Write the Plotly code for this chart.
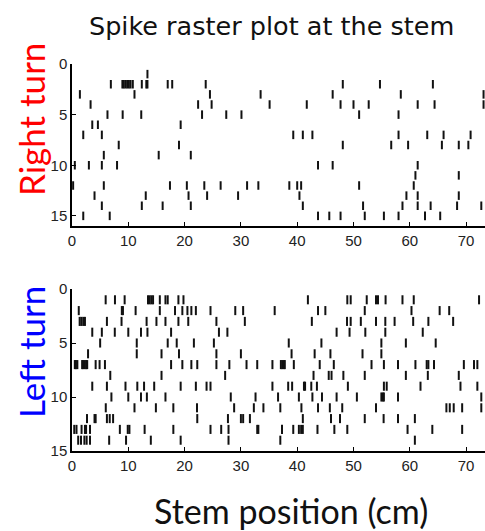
import plotly.graph_objects as go

# ---- data: spike positions (cm) per trial ----
right_turn_trials = [
    [13.4],
    [6.9, 8.95, 9.2, 9.5, 9.8, 10.1, 10.4, 10.8, 12.4, 13.2, 13.4, 17.0, 17.8, 23.75, 48.1, 54.7, 64.1],
    [1.4, 11.1, 24.5, 33.5, 46.3, 58.4, 73.1],
    [3.3, 22.4, 24.8, 35.1, 41.7, 47.7, 50.0, 52.7, 61.4, 64.4, 73.1],
    [6.3, 9.0, 12.3, 23.1, 27.4, 30.1, 51.0, 58.0],
    [3.6, 4.6, 19.3],
    [2.0, 5.3, 39.3, 41.0, 42.7, 58.0, 63.1, 66.0, 70.8],
    [8.3, 19.0, 48.1, 56.7, 59.7, 65.7, 68.7, 70.4],
    [5.65, 15.4, 21.1],
    [0.5, 3.0, 5.3, 8.0, 43.7, 46.3, 61.4],
    [61.0, 68.7],
    [0.2, 5.65, 17.4, 20.4, 23.5, 26.4, 31.1, 33.1, 38.6, 40.0, 40.7, 51.0, 60.7],
    [4.0, 13.1, 20.7, 24.0, 29.5, 40.4, 59.4, 61.4, 68.7],
    [5.3, 12.4, 16.1, 21.1, 41.0, 51.7, 58.7, 61.4, 63.7, 68.4, 72.7],
    [2.0, 6.7, 43.7, 45.7, 47.7, 52.0, 55.4, 58.0, 62.7, 65.4],
]

left_turn_trials = [
    [5.98, 7.63, 9.35, 13.5, 13.8, 14.1, 14.4, 15.6, 16.6, 17.0, 18.9, 19.8, 41.9,
     48.9, 49.5, 52.35, 54.0, 54.35, 55.7, 58.7, 60.7, 72.3],
    [1.2, 8.85, 9.05, 11.3, 15.6, 18.3, 19.6, 20.5, 21.2, 22.0, 24.6, 29.0, 30.4, 36.0,
     43.7, 45.0, 52.0, 60.3, 65.3, 67.0],
    [1.36, 1.66, 2.0, 2.3, 6.2, 8.8, 13.25, 15.0, 16.6, 18.9, 20.65, 25.65, 30.7, 42.6,
     48.85, 49.5, 51.3, 54.0, 55.65, 57.3, 60.6, 63.3, 67.7],
    [3.6, 5.3, 7.6, 10.0, 12.25, 13.4, 17.6, 26.1, 27.6, 47.0, 49.3, 52.1, 55.65, 62.3],
    [5.0, 11.5, 17.0, 18.6, 21.65, 25.2, 38.5, 44.3, 54.95, 59.3, 64.6],
    [2.85, 11.5, 15.9, 19.0, 25.65, 30.0, 39.0, 43.1, 45.9, 51.6, 54.95],
    [0.5, 0.7, 0.95, 1.8, 2.0, 2.25, 2.5, 2.7, 4.2, 4.9, 5.85, 17.6, 19.6, 21.2, 22.25,
     25.65, 27.95, 31.0, 32.9, 35.6, 37.1, 37.35, 37.6, 37.8, 39.4, 44.0, 46.5, 53.2,
     55.4, 57.9, 61.0, 63.0, 63.3, 64.3, 69.6, 71.4, 72.0],
    [6.8, 15.9, 27.2, 42.9, 45.6, 46.1, 48.2, 52.0, 59.3, 63.2, 68.7],
    [3.6, 6.2, 9.5, 11.6, 12.8, 14.6, 19.3, 22.0, 23.9, 24.6, 35.6, 38.4, 39.1, 41.2,
     41.4, 42.5, 43.5, 49.0, 55.4, 55.9, 61.9, 69.0, 72.0],
    [7.0, 10.0, 12.25, 13.3, 16.6, 28.2, 32.6, 36.6, 40.3, 42.7, 44.4, 47.0, 50.6,
     54.95, 55.2, 55.4, 57.9, 72.7],
    [6.0, 11.1, 14.9, 18.0, 22.2, 28.8, 32.3, 34.0, 37.0, 40.75, 43.7, 45.8, 48.0,
     54.0, 66.5, 67.1, 67.8, 69.3, 72.7],
    [2.66, 4.0, 4.2, 6.2, 6.7, 7.3, 22.25, 27.7, 30.0, 30.4, 31.6, 41.0, 46.0, 47.6,
     52.0, 55.35, 57.9, 60.9],
    [0.4, 0.8, 1.7, 2.3, 2.5, 3.2, 8.5, 9.9, 10.2, 12.9, 18.0, 24.6, 26.5, 27.8, 32.9,
     33.1, 37.3, 39.3, 40.3, 40.7, 41.0, 43.6, 46.6, 48.9, 59.6, 64.0, 69.3],
    [1.1, 1.6, 2.2, 2.6, 3.2, 6.6, 9.6, 14.0, 19.3, 27.8, 37.0, 60.9],
]

x_ticks = [0, 10, 20, 30, 40, 50, 60, 70]
y_ticks = [0, 5, 10, 15]


def raster(trials, half):
    xs, ys = [], []
    for i, row in enumerate(trials, start=1):
        for v in row:
            xs += [v, v, None]
            ys += [i - half, i + half, None]
    return xs, ys


W, H = 485, 531


def fx(px):
    return px / W


def fy(py):
    return 1 - py / H


fig = go.Figure()

rx, ry = raster(right_turn_trials, 0.42)
fig.add_trace(go.Scatter(x=rx, y=ry, mode="lines", line=dict(color="#111", width=2),
                         xaxis="x", yaxis="y", showlegend=False, hoverinfo="skip"))
lx, ly = raster(left_turn_trials, 0.42)
fig.add_trace(go.Scatter(x=lx, y=ly, mode="lines", line=dict(color="#111", width=2),
                         xaxis="x2", yaxis="y2", showlegend=False, hoverinfo="skip"))

xr = [0, (485 - 72) / 5.63]
tickfont = dict(family="Liberation Sans, Arial", size=15, color="#222")
common_x = dict(range=xr, tickvals=x_ticks, showline=True, linecolor="black", linewidth=1.5,
                ticks="inside", ticklen=4, tickcolor="black", showgrid=False, zeroline=False,
                tickfont=tickfont, mirror=False, automargin=False)
common_y = dict(tickvals=y_ticks, showline=True, linecolor="black", linewidth=1.5,
                ticks="inside", ticklen=4, tickcolor="black", showgrid=False, zeroline=False,
                tickfont=tickfont, mirror=False, automargin=False)


def ann(text, px, py, size, color, family, angle=0):
    return dict(text=text, x=fx(px), y=fy(py), xref="paper", yref="paper",
                xanchor="center", yanchor="middle", textangle=angle, showarrow=False,
                font=dict(family=family, size=size, color=color))


fig.update_layout(
    width=W, height=H, margin=dict(l=0, r=0, t=0, b=0, autoexpand=False),
    paper_bgcolor="white", plot_bgcolor="white",
    xaxis=dict(domain=[fx(72), fx(485)], anchor="y", **common_x),
    yaxis=dict(domain=[fy(226), fy(64)], range=[16, 0], anchor="x", **common_y),
    xaxis2=dict(domain=[fx(72), fx(485)], anchor="y2", **common_x),
    yaxis2=dict(domain=[fy(451), fy(289)], range=[15, 0], anchor="x2", **common_y),
    annotations=[
        ann("Spike raster plot at the stem", 271, 26, 25.5, "#111", "DejaVu Sans"),
        ann("Right turn", 31, 120, 35, "#ff0000", "Lato", -90),
        ann("Left turn", 31, 352, 35, "#0000ff", "Lato", -90),
        ann("Stem position (cm)", 291, 510, 34, "#111", "Lato"),
    ],
)

fig.write_html("out.html", config={"displayModeBar": False},
               post_script="document.body.style.margin='0px';")
